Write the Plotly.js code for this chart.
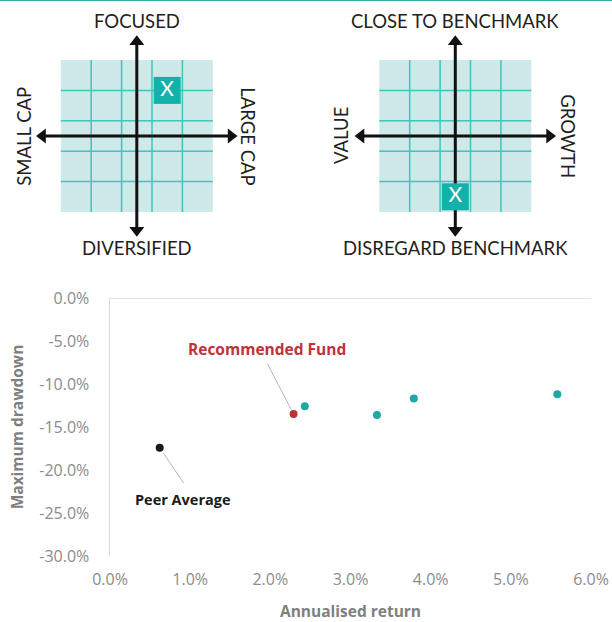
<!DOCTYPE html>
<html><head><meta charset="utf-8">
<script src="https://cdn.plot.ly/plotly-3.0.1.min.js"></script>
<style>html,body{margin:0;padding:0;background:#fff;}#chart{width:612px;height:622px;}</style>
</head><body><div id="chart"></div>
<script>
// ---- Scatter data: annualised return (%) vs maximum drawdown (%) ----
const peerName = 'Peer Average';
const peerReturn = [0.62];
const peerDrawdown = [-17.4];
const fundName = 'Recommended Fund';
const fundReturn = [2.29];
const fundDrawdown = [-13.5];
const otherReturn = [2.43, 3.33, 3.79, 5.58];
const otherDrawdown = [-12.6, -13.6, -11.7, -11.2];

const xTickVals = [0, 1, 2, 3, 4, 5, 6];
const xTickText = ['0.0%', '1.0%', '2.0%', '3.0%', '4.0%', '5.0%', '6.0%'];
const yTickVals = [0, -5, -10, -15, -20, -25, -30];
const yTickText = ['0.0%', '-5.0%', '-10.0%', '-15.0%', '-20.0%', '-25.0%', '-30.0%'];
const xTitle = 'Annualised return';
const yTitle = 'Maximum drawdown';

// ---- Style boxes (grid units, centre = 0) ----
const sizeLabels = ['FOCUSED', 'DIVERSIFIED', 'SMALL CAP', 'LARGE CAP'];
const sizePickX = [1];
const sizePickY = [1.5];
const styleLabels = ['CLOSE TO BENCHMARK', 'DISREGARD BENCHMARK', 'VALUE', 'GROWTH'];
const stylePickX = [0];
const stylePickY = [-2];
const gridLines = [-1.5, -0.5, 0.5, 1.5];
const gridHalf = 2.5;
const arrowEnds = [-3.1, 3.1];
const pickMark = ['X'];

// ---- styles ----
const W = 612, H = 622;
const U = 30.4, R = 4.2;
const boxFont = {family: 'Lato, sans-serif', size: 18.5, color: '#231f20'};
const tickFont = {family: 'Open Sans, sans-serif', size: 16, color: '#8c8c8c'};
const titleFont = {family: 'Open Sans, sans-serif', size: 15.5, color: '#7f7f7f', weight: 'bold'};
const gridCol = '#3dc6bf', bgCol = '#cde9e8', pickCol = '#14b1aa';

function dom(c) { return [(c - U * R) / W, (c + U * R) / W]; }
const yQuadDom = [1 - (136 + U * R) / H, 1 - (136 - U * R) / H];

const traces = [];
const shapes = [];
const annotations = [];

function quad(xa, ya, labels, pickX, pickY, sideOff) {
  shapes.push({type: 'rect', xref: xa, yref: ya, x0: -gridHalf, x1: gridHalf, y0: -gridHalf, y1: gridHalf,
    fillcolor: bgCol, line: {width: 0}, layer: 'below'});
  gridLines.forEach(g => {
    shapes.push({type: 'line', xref: xa, yref: ya, x0: g, x1: g, y0: -gridHalf, y1: gridHalf,
      line: {color: gridCol, width: 1.5}, layer: 'below'});
    shapes.push({type: 'line', xref: xa, yref: ya, y0: g, y1: g, x0: -gridHalf, x1: gridHalf,
      line: {color: gridCol, width: 1.5}, layer: 'below'});
  });
  traces.push({type: 'scatter', xaxis: xa, yaxis: ya, x: arrowEnds, y: [0, 0], mode: 'lines+markers',
    line: {color: '#111', width: 3}, marker: {symbol: ['triangle-left', 'triangle-right'], size: 13, color: '#111'},
    hoverinfo: 'skip', showlegend: false, cliponaxis: false});
  traces.push({type: 'scatter', xaxis: xa, yaxis: ya, x: [0, 0], y: arrowEnds, mode: 'lines+markers',
    line: {color: '#111', width: 3}, marker: {symbol: ['triangle-down', 'triangle-up'], size: 13, color: '#111'},
    hoverinfo: 'skip', showlegend: false, cliponaxis: false});
  traces.push({type: 'scatter', xaxis: xa, yaxis: ya, x: pickX, y: pickY, mode: 'markers+text',
    marker: {symbol: 'square', size: 27, color: pickCol, line: {width: 0}},
    text: pickMark, textposition: 'middle center',
    textfont: {family: 'Lato, sans-serif', size: 21, color: '#ffffff'},
    hoverinfo: 'skip', showlegend: false, cliponaxis: false});
  const a = {xref: xa, yref: ya, showarrow: false, font: boxFont};
  annotations.push(Object.assign({}, a, {x: 0, y: 3.78, text: labels[0]}));
  annotations.push(Object.assign({}, a, {x: 0, y: -3.68, text: labels[1]}));
  annotations.push(Object.assign({}, a, {x: sideOff[0], y: 0, text: labels[2], textangle: -90}));
  annotations.push(Object.assign({}, a, {x: sideOff[1], y: 0, text: labels[3], textangle: 90}));
}

quad('x2', 'y2', sizeLabels, sizePickX, sizePickY, [-3.72, 3.65]);
quad('x3', 'y3', styleLabels, stylePickX, stylePickY, [-3.76, 3.70]);

// main scatter
traces.push({type: 'scatter', x: otherReturn, y: otherDrawdown, mode: 'markers',
  marker: {size: 8, color: '#1fa9a5'}, showlegend: false, cliponaxis: false});
traces.push({type: 'scatter', x: fundReturn, y: fundDrawdown, mode: 'markers', name: fundName,
  marker: {size: 8, color: '#c0303a'}, showlegend: false, cliponaxis: false});
traces.push({type: 'scatter', x: peerReturn, y: peerDrawdown, mode: 'markers', name: peerName,
  marker: {size: 8, color: '#1a1a1a'}, showlegend: false, cliponaxis: false});

shapes.push({type: 'line', xref: 'x', yref: 'y', x0: xTickVals[0], x1: xTickVals[xTickVals.length - 1], y0: 0, y1: 0,
  line: {color: '#d9d9d9', width: 1.5}});
shapes.push({type: 'line', xref: 'paper', yref: 'paper', x0: 0, x1: 1, y0: 1, y1: 1,
  line: {color: '#2ab2ac', width: 2}});

const labFont = {family: 'Open Sans, sans-serif', weight: 'bold'};
annotations.push({x: fundReturn[0], y: fundDrawdown[0], xref: 'x', yref: 'y', text: fundName, showarrow: false,
  xshift: -27, yshift: 65, font: Object.assign({}, labFont, {size: 15.5, color: '#c0313b'})});
annotations.push({x: fundReturn[0], y: fundDrawdown[0], xref: 'x', yref: 'y', text: '', showarrow: true,
  arrowhead: 0, arrowwidth: 1, arrowcolor: '#b8b8b8', ax: -27, ay: -52, standoff: 5});
annotations.push({x: peerReturn[0], y: peerDrawdown[0], xref: 'x', yref: 'y', text: peerName, showarrow: false,
  xshift: 23, yshift: -52, font: Object.assign({}, labFont, {size: 14.5, color: '#1a1a1a'})});
annotations.push({x: peerReturn[0], y: peerDrawdown[0], xref: 'x', yref: 'y', text: '', showarrow: true,
  arrowhead: 0, arrowwidth: 1, arrowcolor: '#b8b8b8', ax: 25, ay: 37, standoff: 6});

const hidden = {visible: false, fixedrange: true, range: [-R, R]};
const layout = {
  width: W, height: H,
  margin: {l: 0, r: 0, t: 0, b: 0},
  paper_bgcolor: '#ffffff', plot_bgcolor: 'rgba(0,0,0,0)',
  showlegend: false,
  xaxis: {domain: [110 / W, 591 / W], range: [0, 6], tickvals: xTickVals, ticktext: xTickText,
    showgrid: false, zeroline: false, showline: false, ticks: '', ticklabelstandoff: 12,
    tickfont: tickFont, automargin: false, fixedrange: true,
    title: {text: xTitle, font: titleFont, standoff: 19}},
  yaxis: {domain: [1 - 556 / H, 1 - 298 / H], range: [-30, 0], tickvals: yTickVals, ticktext: yTickText,
    showgrid: false, zeroline: false, showline: true, linecolor: '#d9d9d9', linewidth: 1.5,
    ticks: '', ticklabelstandoff: 16, tickfont: tickFont, automargin: false, fixedrange: true,
    title: {text: yTitle, font: titleFont, standoff: 12}},
  xaxis2: Object.assign({}, hidden, {domain: dom(136.8), anchor: 'y2'}),
  yaxis2: Object.assign({}, hidden, {domain: yQuadDom, anchor: 'x2'}),
  xaxis3: Object.assign({}, hidden, {domain: dom(455.3), anchor: 'y3'}),
  yaxis3: Object.assign({}, hidden, {domain: yQuadDom, anchor: 'x3'}),
  shapes: shapes,
  annotations: annotations
};

Plotly.newPlot('chart', traces, layout, {displayModeBar: false, staticPlot: true});
</script>
</body></html>
